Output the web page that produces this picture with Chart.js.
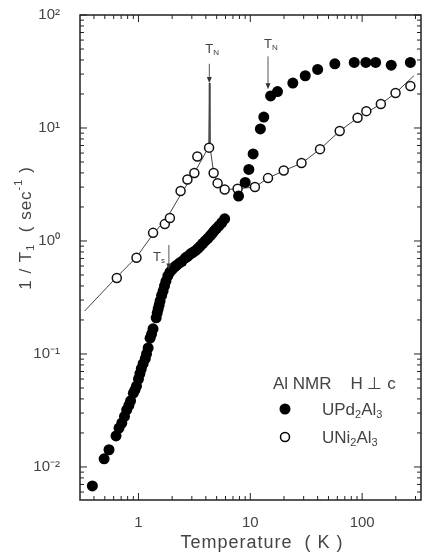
<!DOCTYPE html>
<html>
<head>
<meta charset="utf-8">
<script src="https://cdn.jsdelivr.net/npm/chart.js@4"></script>
<style>
  body { margin: 0; background: #fff; }
  #wrap { width: 427px; height: 559px; position: relative; }
</style>
</head>
<body>
<div id="wrap"><canvas id="nmrChart"></canvas></div>
<script>
// UPd2Al3 (filled circles)
const updT = [0.387, 0.493, 0.545, 0.63, 0.67, 0.71, 0.75, 0.785, 0.82, 0.85, 0.90, 0.93, 0.96, 1.0, 1.03, 1.06, 1.10, 1.15, 1.18, 1.22, 1.27, 1.31, 1.35, 1.44, 1.47, 1.50, 1.53, 1.56, 1.61, 1.66, 1.71, 1.76, 1.83, 1.91, 2.0, 2.11, 2.2, 2.33, 2.45, 2.63, 2.75, 2.92, 3.05, 3.23, 3.4, 3.57, 3.75, 3.95, 4.15, 4.37, 4.55, 4.73, 4.95, 5.24, 5.55, 5.9, 7.85, 9.0, 9.7, 10.6, 12.3, 13.2, 15.2, 17.5, 24, 31, 40, 57, 85, 108, 132, 182, 270];
const updVal = [0.0068, 0.0118, 0.0142, 0.0188, 0.0221, 0.0245, 0.028, 0.032, 0.035, 0.0385, 0.045, 0.048, 0.052, 0.060, 0.067, 0.074, 0.082, 0.091, 0.10, 0.113, 0.138, 0.15, 0.167, 0.209, 0.23, 0.25, 0.27, 0.295, 0.33, 0.36, 0.40, 0.44, 0.49, 0.53, 0.56, 0.59, 0.61, 0.64, 0.66, 0.71, 0.73, 0.77, 0.79, 0.82, 0.86, 0.90, 0.95, 1.0, 1.05, 1.11, 1.16, 1.22, 1.28, 1.36, 1.45, 1.57, 2.5, 3.3, 4.3, 5.9, 9.8, 12.5, 19.2, 21, 25, 29, 33, 37, 38, 38, 38, 36, 38];

// UNi2Al3 (open circles)
const uniT = [0.64, 0.96, 1.35, 1.72, 1.91, 2.38, 2.74, 3.16, 3.36, 4.28, 4.7, 5.1, 5.9, 7.7, 11.0, 14.4, 19.9, 28.7, 42, 63, 91, 109, 147, 199, 270];
const uniVal = [0.47, 0.71, 1.18, 1.41, 1.6, 2.77, 3.5, 4.0, 5.6, 6.7, 4.0, 3.25, 2.85, 2.9, 3.0, 3.6, 4.2, 4.9, 6.5, 9.4, 12.3, 14.1, 16.3, 20.4, 23.5];

// guide line through UNi2Al3, with the spike at T_N
const fitT = [0.33, 0.64, 0.96, 1.35, 1.8, 2.4, 3.2, 4.25, 4.3, 4.36, 4.7, 5.1, 5.9, 7.7, 11, 14.4, 20, 29, 42, 63, 91, 147, 199, 290];
const fitVal = [0.24, 0.48, 0.72, 1.15, 1.6, 2.6, 4.1, 6.8, 25, 6.9, 4.0, 3.25, 2.85, 2.9, 3.0, 3.6, 4.2, 4.9, 6.5, 9.4, 12.3, 16.3, 20.4, 29];

// axis ranges and labelled decades
const xMin = 0.33, xMax = 336;
const yMin = 0.0051, yMax = 100;
const xTickLabels = [1, 10, 100];
const yTickLabels = ['10\u207B\u00B2', '10\u207B\u00B9', '10\u2070', '10\u00B9', '10\u00B2'];

// arrows: [T, label y value, arrow start value, arrow end value]
const tnLeft = [4.3, 50, 37, 25];
const tnRight = [14.4, 55, 43, 22];
const tsMark = [1.87, 0.72, 0.92, 0.56];

const textColor = '#444';
const fontFamily = '"Liberation Sans", Arial, sans-serif';

function toPts(xs, ys) {
    return xs.map((x, i) => ({ x: x, y: ys[i] }));
}

// draw text with sub/superscript parts, returns width
function drawRich(ctx, parts, x, y, size, align) {
    const widths = parts.map(p => {
        ctx.font = (p.s ? Math.round(size * 0.62) : size) + 'px ' + fontFamily;
        return ctx.measureText(p.t).width;
    });
    const total = widths.reduce((a, b) => a + b, 0);
    let cx = x;
    if (align === 'center') cx = x - total / 2;
    if (align === 'right') cx = x - total;
    parts.forEach((p, i) => {
        ctx.font = (p.s ? Math.round(size * 0.62) : size) + 'px ' + fontFamily;
        let dy = 0;
        if (p.s === 'sub') dy = size * 0.3;
        if (p.s === 'sup') dy = -size * 0.42;
        ctx.fillText(p.t, cx, y + dy);
        cx += widths[i];
    });
    return total;
}

function drawArrow(ctx, x, y1, y2) {
    ctx.beginPath();
    ctx.moveTo(x, y1);
    ctx.lineTo(x, y2 - 4);
    ctx.stroke();
    ctx.beginPath();
    ctx.moveTo(x, y2);
    ctx.lineTo(x - 2.5, y2 - 6);
    ctx.lineTo(x + 2.5, y2 - 6);
    ctx.closePath();
    ctx.fill();
}

const framePlugin = {
    id: 'framePlugin',
    afterDraw(chart) {
        const ctx = chart.ctx;
        const a = chart.chartArea;
        const xs = chart.scales.x, ys = chart.scales.y;
        ctx.save();
        ctx.strokeStyle = '#222';
        ctx.lineWidth = 1.5;
        ctx.strokeRect(a.left, a.top, a.right - a.left, a.bottom - a.top);

        // inward ticks on all four sides
        ctx.lineWidth = 1;
        for (let e = -1; e <= 2; e++) {
            for (let m = 1; m <= 9; m++) {
                const v = m * Math.pow(10, e);
                if (v < xMin || v > xMax) continue;
                const px = xs.getPixelForValue(v);
                const len = m === 1 ? 7 : 4;
                ctx.beginPath();
                ctx.moveTo(px, a.bottom); ctx.lineTo(px, a.bottom - len);
                ctx.moveTo(px, a.top); ctx.lineTo(px, a.top + len);
                ctx.stroke();
            }
        }
        for (let e = -3; e <= 2; e++) {
            for (let m = 1; m <= 9; m++) {
                const v = m * Math.pow(10, e);
                if (v < yMin || v > yMax) continue;
                const py = ys.getPixelForValue(v);
                const len = m === 1 ? 7 : 4;
                ctx.beginPath();
                ctx.moveTo(a.left, py); ctx.lineTo(a.left + len, py);
                ctx.moveTo(a.right, py); ctx.lineTo(a.right - len, py);
                ctx.stroke();
            }
        }

        // axis titles
        ctx.fillStyle = textColor;
        ctx.textBaseline = 'middle';
        ctx.font = '18px ' + fontFamily;
        ctx.textAlign = 'center';
        ctx.letterSpacing = '1px';
        ctx.fillText('Temperature  ( K )', 262, 543);
        ctx.textAlign = 'left';
        ctx.save();
        ctx.translate(26, 228);
        ctx.rotate(-Math.PI / 2);
        drawRich(ctx, [{ t: '1 / T' }, { t: '1', s: 'sub' }, { t: '  ( sec' }, { t: '-1', s: 'sup' }, { t: ' )' }], 0, 0, 17, 'center');
        ctx.restore();
        ctx.letterSpacing = '0px';

        // transition arrows
        ctx.strokeStyle = '#555';
        ctx.fillStyle = '#333';
        ctx.lineWidth = 1;
        [tnLeft, tnRight].forEach(t => {
            const px = xs.getPixelForValue(t[0]);
            drawArrow(ctx, px, ys.getPixelForValue(t[2]), ys.getPixelForValue(t[3]));
            ctx.fillStyle = textColor;
            drawRich(ctx, [{ t: 'T' }, { t: 'N', s: 'sub' }], px - 4, ys.getPixelForValue(t[1]), 13, 'left');
            ctx.fillStyle = '#333';
        });
        const sx = xs.getPixelForValue(tsMark[0]);
        drawArrow(ctx, sx, ys.getPixelForValue(tsMark[2]), ys.getPixelForValue(tsMark[3]));
        ctx.fillStyle = textColor;
        drawRich(ctx, [{ t: 'T' }, { t: 's', s: 'sub' }], sx - 4, ys.getPixelForValue(tsMark[1]), 13, 'right');

        // legend
        ctx.font = '17px ' + fontFamily;
        ctx.fillText('Al NMR    H \u22A5 c', 273, 384);
        ctx.fillStyle = '#000';
        ctx.beginPath(); ctx.arc(285, 409, 5.5, 0, Math.PI * 2); ctx.fill();
        ctx.strokeStyle = '#000'; ctx.lineWidth = 1.5;
        ctx.beginPath(); ctx.arc(285, 437, 4.5, 0, Math.PI * 2); ctx.stroke();
        ctx.fillStyle = textColor;
        drawRich(ctx, [{ t: 'UPd' }, { t: '2', s: 'sub' }, { t: 'Al' }, { t: '3', s: 'sub' }], 322, 410, 17, 'left');
        drawRich(ctx, [{ t: 'UNi' }, { t: '2', s: 'sub' }, { t: 'Al' }, { t: '3', s: 'sub' }], 322, 438, 17, 'left');
        ctx.restore();
    }
};

const ctx = document.getElementById('nmrChart').getContext('2d');
const nmrChart = new Chart(ctx, {
    type: 'scatter',
    data: {
        datasets: [
            {
                label: 'UPd2Al3',
                data: toPts(updT, updVal),
                pointRadius: 5.5,
                pointBackgroundColor: '#000',
                pointBorderColor: '#000',
                pointBorderWidth: 0,
                showLine: false,
                order: 0
            },
            {
                label: 'UNi2Al3',
                data: toPts(uniT, uniVal),
                pointRadius: 4.5,
                pointBackgroundColor: '#fff',
                pointBorderColor: '#111',
                pointBorderWidth: 1.5,
                showLine: false,
                order: 1
            },
            {
                label: 'fit',
                data: toPts(fitT, fitVal),
                showLine: true,
                pointRadius: 0,
                borderColor: '#444',
                borderWidth: 1,
                tension: 0,
                order: 2
            }
        ]
    },
    options: {
        responsive: true,
        maintainAspectRatio: false,
        animation: false,
        layout: { padding: { top: 15, right: 4, left: 0, bottom: 0 } },
        plugins: {
            legend: { display: false },
            tooltip: { enabled: false }
        },
        scales: {
            x: {
                type: 'logarithmic',
                min: xMin,
                max: xMax,
                grid: { display: false },
                border: { display: false },
                ticks: {
                    autoSkip: false,
                    maxRotation: 0,
                    padding: 6,
                    color: textColor,
                    font: { size: 15, family: fontFamily },
                    callback: function(value) {
                        return xTickLabels.includes(value) ? String(value) : '';
                    }
                },
                afterFit: function(scale) {
                    scale.height = 59;
                    scale.paddingLeft = 0;
                    scale.paddingRight = 0;
                }
            },
            y: {
                type: 'logarithmic',
                min: yMin,
                max: yMax,
                grid: { display: false },
                border: { display: false },
                ticks: {
                    autoSkip: false,
                    padding: 12,
                    color: textColor,
                    font: { size: 15, family: fontFamily },
                    callback: function(value) {
                        const l = Math.log10(value);
                        if (Math.abs(l - Math.round(l)) > 1e-6) return '';
                        return yTickLabels[Math.round(l) + 2] || '';
                    }
                },
                afterFit: function(scale) {
                    scale.width = 80;
                    scale.paddingTop = 0;
                    scale.paddingBottom = 0;
                }
            }
        }
    },
    plugins: [framePlugin]
});
</script>
</body>
</html>
